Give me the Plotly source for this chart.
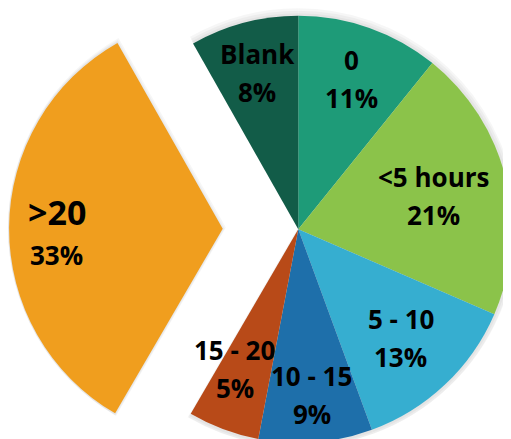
import math
import plotly.graph_objects as go

# ---- data ----
categories = ["0", "<5 hours", "5 - 10", "10 - 15", "15 - 20", ">20", "Blank"]
share = [10.8, 20.7, 12.9, 8.6, 5.4, 33.4, 8.2]      # % (labels show rounded values)
colors = ["#1E9B78", "#8BC34A", "#36AED0", "#1E6FAA", "#B84A18", "#F09E1E", "#125C48"]
exploded = ">20"

# ---- layout / style parameters ----
W, H = 511, 439
PAGE_OFFSET = 8            # default body margin of the html page
R = 213.6                  # pie radius in px
CX, CY = 298.3, 229.3      # pie centre in window px (from top-left)
PULL = 0.354               # explode distance as fraction of radius
label_r = [0.747, 0.652, 0.699, 0.78, 0.715, 0.776, 0.755]  # label radial position
label_dx = [0, 0, 0, 0, -10, 0, 0]      # small label nudges (px)
label_dy = [0, 0, 0, 0, -3, 6, 0]
FONT = "Open Sans"
transparent = "rgba(0,0,0,0)"
shadow_layers = [7.5, 5.0, 2.5]

total = sum(share)
mid = []
acc = 0
for v in share:
    mid.append((acc + v / 2) / total * 2 * math.pi)
    acc += v

ei = categories.index(exploded)
ex_dx = PULL * R * math.sin(mid[ei])
ex_dy = -PULL * R * math.cos(mid[ei])


def domain(cx, cy, r):
    fx, fy = cx - PAGE_OFFSET, cy - PAGE_OFFSET
    yc = 1 - fy / H
    return dict(x=[max(0, (fx - r) / W), min(1, (fx + r) / W)],
                y=[max(0, yc - r / H), min(1, yc + r / H)])


main_colors = [transparent if c == exploded else col for c, col in zip(categories, colors)]
ex_colors = [col if c == exploded else transparent for c, col in zip(categories, colors)]

common = dict(labels=categories, values=share, sort=False, direction="clockwise",
              rotation=0, textinfo="none", showlegend=False)

fig = go.Figure()
# soft shadow halo
for dr in shadow_layers:
    sh = "rgba(0,0,0,0.035)"
    fig.add_trace(go.Pie(marker=dict(colors=[transparent if c == exploded else sh for c in categories],
                                     line=dict(width=0)),
                         domain=domain(CX, CY, R + dr), hoverinfo="skip", **common))
    fig.add_trace(go.Pie(marker=dict(colors=[sh if c == exploded else transparent for c in categories],
                                     line=dict(width=0)),
                         domain=domain(CX + ex_dx, CY + ex_dy, R + dr), hoverinfo="skip", **common))

fig.add_trace(go.Pie(marker=dict(colors=main_colors, line=dict(width=0)),
                     domain=domain(CX, CY, R), hoverinfo="label+percent", **common))
fig.add_trace(go.Pie(marker=dict(colors=ex_colors, line=dict(width=0)),
                     domain=domain(CX + ex_dx, CY + ex_dy, R), hoverinfo="label+percent", **common))

annotations = []
for i, (c, v) in enumerate(zip(categories, share)):
    cx = CX + (ex_dx if c == exploded else 0)
    cy = CY + (ex_dy if c == exploded else 0)
    px = cx + label_r[i] * R * math.sin(mid[i]) + label_dx[i] - PAGE_OFFSET
    py = cy - label_r[i] * R * math.cos(mid[i]) + label_dy[i] - PAGE_OFFSET
    big = c == exploded
    gap = 21.5 if big else 19
    annotations.append(dict(x=px / W, y=1 - py / H, xref="paper", yref="paper",
                            text=c, showarrow=False, xanchor="center", yanchor="middle",
                            yshift=gap, font=dict(family=FONT, size=34 if big else 26,
                                                  color="#000000", weight="bold")))
    annotations.append(dict(x=px / W, y=1 - py / H, xref="paper", yref="paper",
                            text=f"{round(v / total * 100)}%", showarrow=False,
                            xanchor="center", yanchor="middle",
                            yshift=-gap, font=dict(family=FONT, size=26,
                                                   color="#000000", weight="bold")))

fig.update_layout(width=W, height=H, margin=dict(l=0, r=0, t=0, b=0),
                  paper_bgcolor="white", plot_bgcolor="white",
                  annotations=annotations)

fig.write_html("out.html")
